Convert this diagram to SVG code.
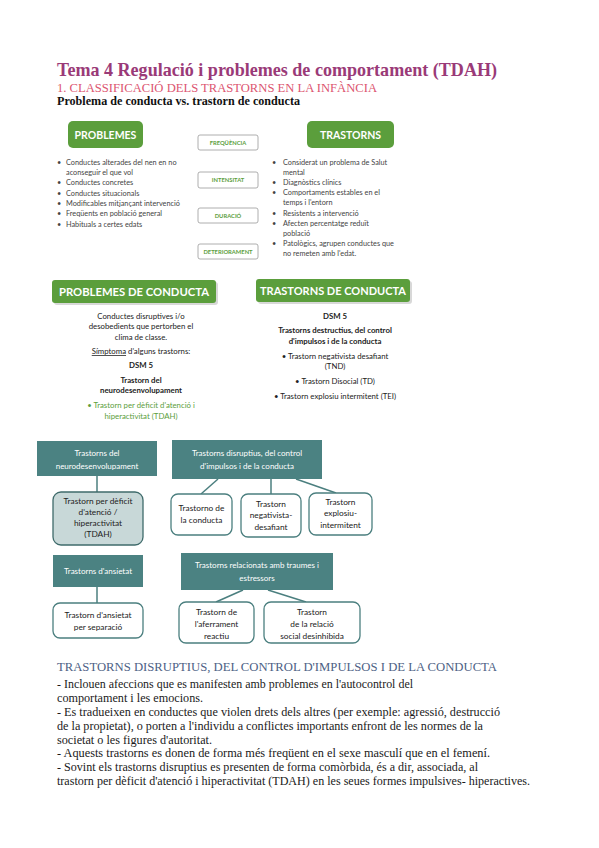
<svg xmlns="http://www.w3.org/2000/svg" width="599" height="848" viewBox="0 0 599 848">
<style>
.title{font-family:"Liberation Serif",serif;font-weight:bold;font-size:19px;fill:#9a3a78}
.sub{font-family:"Liberation Serif",serif;font-size:11.5px;fill:#dc5570}
.sub2{font-family:"Liberation Serif",serif;font-weight:bold;font-size:11.5px;fill:#111}
.g{fill:#5b9e3c}
.sh{fill:#d8d8d8}
.hdr{font-family:Lato,sans-serif;font-weight:bold;fill:#fff;text-anchor:middle}
.li{font-family:Lato,sans-serif;font-size:7.3px;fill:#444}
.tag rect{fill:#fff;stroke:#9a9a9a;stroke-width:0.8}
.tag text{font-family:Lato,sans-serif;font-weight:bold;font-size:5.8px;fill:#5b9e3c;text-anchor:middle}
.bd{font-family:Lato,sans-serif;font-size:7.8px;fill:#222;text-anchor:middle}
.bb{font-weight:bold}
.gr{fill:#5b9e3c}
.teal{fill:#4b8282}
.wt{font-family:Lato,sans-serif;font-size:8px;fill:#fff;text-anchor:middle}
.box{fill:#fff;stroke:#4b7f7f;stroke-width:1.3}
.tdah{fill:#c8d8d8;stroke:#3f6b6b;stroke-width:1.3}
.dk{font-family:Lato,sans-serif;font-size:8.3px;fill:#222;text-anchor:middle}
.conn line{stroke:#4b7f7f;stroke-width:1.5}
.ph{font-family:"Liberation Serif",serif;font-size:12.5px;fill:#4d5f85}
.p{font-family:"Liberation Serif",serif;font-size:11.5px;fill:#1a1a1a}
</style>

<g id="header">
<text class="title" x="57" y="75.5" textLength="440" lengthAdjust="spacingAndGlyphs">Tema 4 Regulació i problemes de comportament (TDAH)</text>
<text class="sub" x="57" y="91.5" textLength="320" lengthAdjust="spacingAndGlyphs">1. CLASSIFICACIÓ DELS TRASTORNS EN LA INFÀNCIA</text>
<text class="sub2" x="57" y="104.5" textLength="243" lengthAdjust="spacingAndGlyphs">Problema de conducta vs. trastorn de conducta</text>
</g>

<g id="problemes">
<rect class="g" x="68" y="121" width="75" height="27" rx="5"/>
<text class="hdr" x="105.5" y="138.5" font-size="10.5">PROBLEMES</text>
<g class="li">
<text x="57" y="164.5">•</text><text x="66" y="164.5">Conductes alterades del nen en no</text>
<text x="66" y="174.8">aconseguir el que vol</text>
<text x="57" y="185">•</text><text x="66" y="185">Conductes concretes</text>
<text x="57" y="195.5">•</text><text x="66" y="195.5">Conductes situacionals</text>
<text x="57" y="205.8">•</text><text x="66" y="205.8">Modificables mitjançant intervenció</text>
<text x="57" y="216">•</text><text x="66" y="216">Freqüents en població general</text>
<text x="57" y="226.5">•</text><text x="66" y="226.5">Habituals a certes edats</text>
</g>
</g>

<g id="tags" class="tag">
<g id="tag-frequencia"><rect x="198" y="135" width="60" height="15" rx="2"/><text x="228" y="144.5">FREQÜÈNCIA</text></g>
<g id="tag-intensitat"><rect x="198" y="172" width="60" height="16" rx="2"/><text x="228" y="182">INTENSITAT</text></g>
<g id="tag-duracio"><rect x="198" y="208" width="60" height="15" rx="2"/><text x="228" y="217.5">DURACIÓ</text></g>
<g id="tag-deteriorament"><rect x="198" y="244" width="60" height="15" rx="2"/><text x="228" y="253.5">DETERIORAMENT</text></g>
</g>

<g id="trastorns">
<rect class="g" x="307" y="121" width="87" height="27" rx="5"/>
<text class="hdr" x="350.5" y="138.5" font-size="10.5">TRASTORNS</text>
<g class="li">
<text x="272" y="164.5">•</text><text x="283" y="164.5">Considerat un problema de Salut</text>
<text x="283" y="174.7">mental</text>
<text x="272" y="184.9">•</text><text x="283" y="184.9">Diagnòstics clínics</text>
<text x="272" y="195.1">•</text><text x="283" y="195.1">Comportaments estables en el</text>
<text x="283" y="205.3">temps i l'entorn</text>
<text x="272" y="215.5">•</text><text x="283" y="215.5">Resistents a intervenció</text>
<text x="272" y="225.7">•</text><text x="283" y="225.7">Afecten percentatge reduït</text>
<text x="283" y="235.9">població</text>
<text x="272" y="246.1">•</text><text x="283" y="246.1">Patològics, agrupen conductes que</text>
<text x="283" y="256.3">no remeten amb l'edat.</text>
</g>
</g>

<g id="problemes-conducta">
<rect class="sh" x="54" y="282" width="164" height="23" rx="3"/>
<rect class="g" x="52" y="280" width="164" height="23" rx="3"/>
<text class="hdr" x="134" y="295.5" font-size="11" textLength="150" lengthAdjust="spacingAndGlyphs">PROBLEMES DE CONDUCTA</text>
<g class="bd">
<text x="141" y="319">Conductes disruptives i/o</text>
<text x="141" y="329">desobedients que pertorben el</text>
<text x="141" y="340">clima de classe.</text>
<text x="141" y="354"><tspan style="text-decoration:underline">Símptoma</tspan> d'alguns trastorns:</text>
<text x="141" y="368" class="bb">DSM 5</text>
<text x="141" y="383" class="bb">Trastorn del</text>
<text x="141" y="393" class="bb">neurodesenvolupament</text>
<text x="141" y="408" class="gr">• Trastorn per dèficit d'atenció i</text>
<text x="141" y="419" class="gr">hiperactivitat (TDAH)</text>
</g>
</g>

<g id="trastorns-conducta">
<rect class="sh" x="258" y="281" width="154" height="23" rx="3"/>
<rect class="g" x="256" y="279" width="154" height="23" rx="3"/>
<text class="hdr" x="333" y="294.5" font-size="11" textLength="146" lengthAdjust="spacingAndGlyphs">TRASTORNS DE CONDUCTA</text>
<g class="bd">
<text x="335" y="319" class="bb">DSM 5</text>
<text x="335" y="333" class="bb">Trastorns destructius, del control</text>
<text x="335" y="344" class="bb">d'impulsos i de la conducta</text>
<text x="335" y="359">• Trastorn negativista desafiant</text>
<text x="335" y="369">(TND)</text>
<text x="335" y="384">• Trastorn Disocial (TD)</text>
<text x="335" y="399">• Trastorn explosiu intermitent (TEI)</text>
</g>
</g>

<g id="connectors" class="conn">
<line x1="97" y1="476" x2="97" y2="492"/>
<line x1="97" y1="587" x2="97" y2="603"/>
<line x1="218" y1="479" x2="201" y2="494"/>
<line x1="271" y1="479" x2="271" y2="494"/>
<line x1="296" y1="479" x2="336" y2="493"/>
<line x1="243" y1="590" x2="216" y2="602"/>
<line x1="268" y1="590" x2="306" y2="602"/>
</g>

<g id="n-neuro">
<rect class="teal" x="37" y="441" width="120" height="35"/>
<text class="wt" x="97" y="455.5">Trastorns del</text>
<text class="wt" x="97" y="468.5">neurodesenvolupament</text>
</g>
<g id="n-tdah">
<rect class="tdah" x="53" y="492" width="90" height="53" rx="8"/>
<text class="dk" x="98" y="504">Trastorn per dèficit</text>
<text class="dk" x="98" y="515">d'atenció /</text>
<text class="dk" x="98" y="526">hiperactivitat</text>
<text class="dk" x="98" y="537">(TDAH)</text>
</g>
<g id="n-ansietat">
<rect class="teal" x="53" y="555" width="90" height="32"/>
<text class="wt" x="98" y="574">Trastorns d'ansietat</text>
</g>
<g id="n-separacio">
<rect class="box" x="53" y="603" width="90" height="35" rx="7"/>
<text class="dk" x="98" y="618">Trastorn d'ansietat</text>
<text class="dk" x="98" y="630">per separació</text>
</g>
<g id="n-disruptius">
<rect class="teal" x="172" y="440" width="150" height="39"/>
<text class="wt" x="247" y="456">Trastorns disruptius, del control</text>
<text class="wt" x="247" y="469">d'impulsos i de la conducta</text>
</g>
<g id="n-conducta">
<rect class="box" x="171" y="494" width="61" height="41" rx="7"/>
<text class="dk" x="201.5" y="511">Trastorno de</text>
<text class="dk" x="201.5" y="523">la conducta</text>
</g>
<g id="n-negativista">
<rect class="box" x="241" y="494" width="60" height="43" rx="7"/>
<text class="dk" x="271" y="507">Trastorn</text>
<text class="dk" x="271" y="518">negativista-</text>
<text class="dk" x="271" y="530">desafiant</text>
</g>
<g id="n-explosiu">
<rect class="box" x="309" y="493" width="63" height="42" rx="7"/>
<text class="dk" x="340.5" y="505">Trastorn</text>
<text class="dk" x="340.5" y="516">explosiu-</text>
<text class="dk" x="340.5" y="528">intermitent</text>
</g>
<g id="n-relacionats">
<rect class="teal" x="181" y="553" width="152" height="37"/>
<text class="wt" x="257" y="568">Trastorns relacionats amb traumes i</text>
<text class="wt" x="257" y="581">estressors</text>
</g>
<g id="n-aferrament">
<rect class="box" x="179" y="602" width="75" height="41" rx="7"/>
<text class="dk" x="216.5" y="615">Trastorn de</text>
<text class="dk" x="216.5" y="627">l'aferrament</text>
<text class="dk" x="216.5" y="639">reactiu</text>
</g>
<g id="n-relacio">
<rect class="box" x="264" y="602" width="96" height="41" rx="7"/>
<text class="dk" x="312" y="615">Trastorn</text>
<text class="dk" x="312" y="627">de la relació</text>
<text class="dk" x="312" y="639">social desinhibida</text>
</g>

<g id="text-body">
<text class="ph" x="57" y="671" textLength="440" lengthAdjust="spacingAndGlyphs">TRASTORNS DISRUPTIUS, DEL CONTROL D'IMPULSOS I DE LA CONDUCTA</text>
<text class="p" x="57" y="688" textLength="356" lengthAdjust="spacingAndGlyphs">- Inclouen afeccions que es manifesten amb problemes en l'autocontrol del</text>
<text class="p" x="57" y="702" textLength="146" lengthAdjust="spacingAndGlyphs">comportament i les emocions.</text>
<text class="p" x="57" y="716" textLength="443" lengthAdjust="spacingAndGlyphs">- Es tradueixen en conductes que violen drets dels altres (per exemple: agressió, destrucció</text>
<text class="p" x="57" y="730" textLength="426" lengthAdjust="spacingAndGlyphs">de la propietat), o porten a l'individu a conflictes importants enfront de les normes de la</text>
<text class="p" x="57" y="744" textLength="155" lengthAdjust="spacingAndGlyphs">societat o les figures d'autoritat.</text>
<text class="p" x="57" y="757" textLength="433" lengthAdjust="spacingAndGlyphs">- Aquests trastorns es donen de forma més freqüent en el sexe masculí que en el femení.</text>
<text class="p" x="57" y="771" textLength="421" lengthAdjust="spacingAndGlyphs">- Sovint els trastorns disruptius es presenten de forma comòrbida, és a dir, associada, al</text>
<text class="p" x="57" y="785" textLength="473" lengthAdjust="spacingAndGlyphs">trastorn per dèficit d'atenció i hiperactivitat (TDAH) en les seues formes impulsives- hiperactives.</text>
</g>
</svg>
